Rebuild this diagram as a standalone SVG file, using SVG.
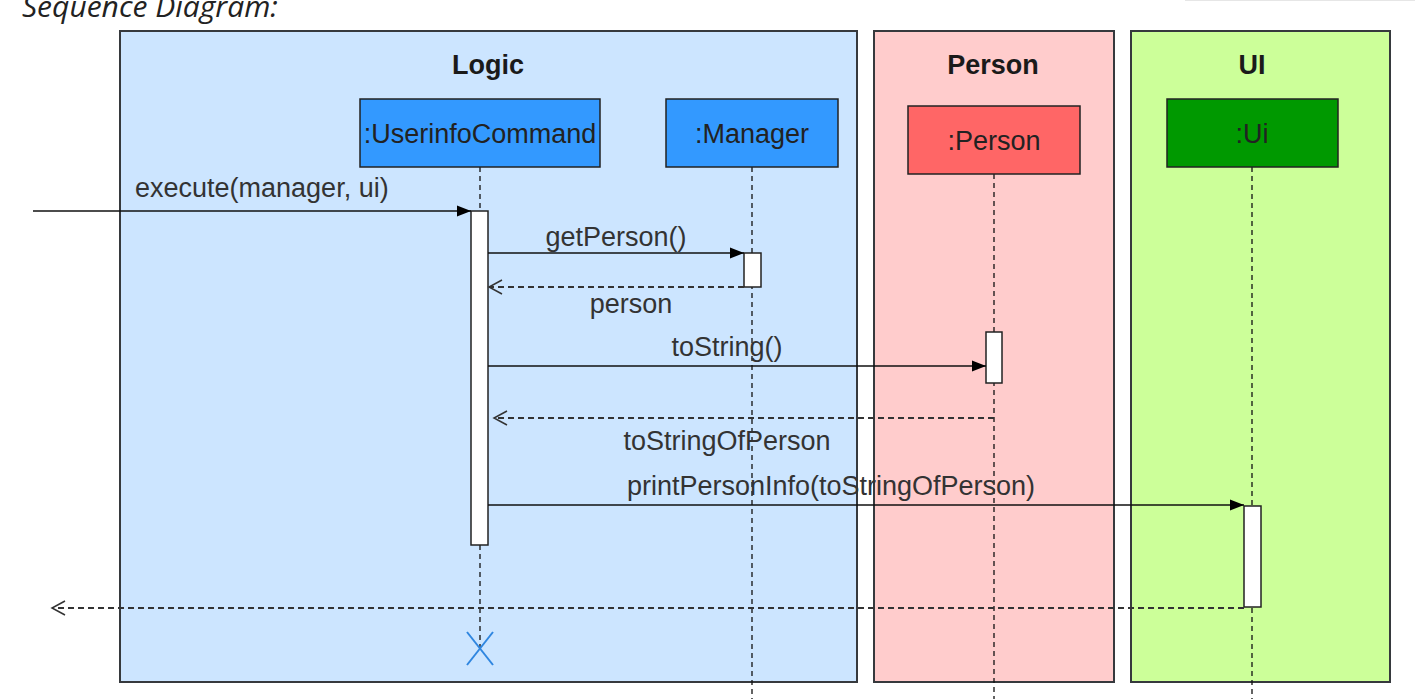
<svg xmlns="http://www.w3.org/2000/svg" width="1419" height="699" viewBox="0 0 1419 699">
<style>
.frame{stroke:#36393d;stroke-width:2}
.ftitle{font-family:"Liberation Sans",Arial,sans-serif;font-size:27px;font-weight:bold;fill:#1a1a1a;text-anchor:middle}
.lbox{stroke:#222;stroke-width:1.5}
.ltext{font-family:"Liberation Sans",Arial,sans-serif;font-size:27px;fill:#222;text-anchor:middle}
.life{stroke:#111;stroke-width:1.3;stroke-dasharray:5 4;fill:none}
.act{fill:#fff;stroke:#222;stroke-width:1.5}
.msg{stroke:#111;stroke-width:1.5;fill:none}
.ret{stroke:#333;stroke-width:1.8;stroke-dasharray:6 4;fill:none}
.mlabel{font-family:"Liberation Sans",Arial,sans-serif;font-size:27px;fill:#333}
</style>
<defs>
<marker id="block" markerUnits="userSpaceOnUse" markerWidth="15" markerHeight="12" refX="14" refY="6" orient="auto" overflow="visible">
<path d="M0,0.5 L14,6 L0,11.5 z" fill="#000"/>
</marker>
<marker id="open" markerUnits="userSpaceOnUse" markerWidth="14" markerHeight="16" refX="13" refY="7" orient="auto" overflow="visible">
<path d="M0,0 L13,7 L0,14" fill="none" stroke="#333" stroke-width="1.5"/>
</marker>
</defs>
<rect width="1419" height="699" fill="#fff"/>
<line x1="1185" y1="0.5" x2="1415" y2="0.5" stroke="#e6e6e6" stroke-width="1"/>
<text x="22" y="17" font-family="'Open Sans',sans-serif" font-style="italic" font-size="30" fill="#222">Sequence Diagram:</text>

<g id="frame-logic">
<rect class="frame" x="120" y="31" width="737" height="651" fill="#CCE5FF"/>
<text class="ftitle" x="488" y="74">Logic</text>
</g>
<g id="frame-person">
<rect class="frame" x="874" y="31" width="240" height="651" fill="#FFCCCC"/>
<text class="ftitle" x="993" y="74">Person</text>
</g>
<g id="frame-ui">
<rect class="frame" x="1131" y="31" width="259" height="651" fill="#CCFF99"/>
<text class="ftitle" x="1252" y="74">UI</text>
</g>

<g id="lifelines">
<line class="life" x1="480" y1="167" x2="480" y2="648"/>
<line class="life" x1="752" y1="167" x2="752" y2="699"/>
<line class="life" x1="994" y1="174" x2="994" y2="699"/>
<line class="life" x1="1252" y1="167" x2="1252" y2="699"/>
</g>

<g id="userinfocommand">
<rect class="lbox" x="360" y="99" width="240" height="68" fill="#3399FF"/>
<text class="ltext" x="480" y="143">:UserinfoCommand</text>
<rect class="act" x="471" y="211" width="17" height="334"/>
<g stroke="#2F86E0" stroke-width="2"><line x1="467" y1="632" x2="493" y2="665"/><line x1="493" y1="632" x2="467" y2="665"/></g>
</g>
<g id="manager">
<rect class="lbox" x="666" y="99" width="172" height="68" fill="#3399FF"/>
<text class="ltext" x="752" y="143">:Manager</text>
<rect class="act" x="744" y="253" width="17" height="34"/>
</g>
<g id="person">
<rect class="lbox" x="908" y="106" width="172" height="68" fill="#FF6666"/>
<text class="ltext" x="994" y="150">:Person</text>
<rect class="act" x="986" y="332" width="16" height="51"/>
</g>
<g id="ui">
<rect class="lbox" x="1167" y="99" width="171" height="68" fill="#009900"/>
<text class="ltext" x="1252" y="143">:Ui</text>
<rect class="act" x="1244" y="506" width="17" height="101"/>
</g>

<g id="connectors">
<line class="msg" x1="33" y1="211" x2="471" y2="211" marker-end="url(#block)"/>
<text class="mlabel" x="135" y="197">execute(manager, ui)</text>
<line class="msg" x1="488" y1="253" x2="744" y2="253" marker-end="url(#block)"/>
<text class="mlabel" x="616" y="246" text-anchor="middle">getPerson()</text>
<line class="ret" x1="744" y1="287" x2="489" y2="287" marker-end="url(#open)"/>
<text class="mlabel" x="631" y="313" text-anchor="middle">person</text>
<line class="msg" x1="488" y1="366" x2="986" y2="366" marker-end="url(#block)"/>
<text class="mlabel" x="727" y="356" text-anchor="middle">toString()</text>
<line class="ret" x1="994" y1="418" x2="494" y2="418" marker-end="url(#open)"/>
<text class="mlabel" x="727" y="450" text-anchor="middle">toStringOfPerson</text>
<line class="msg" x1="488" y1="505" x2="1244" y2="505" marker-end="url(#block)"/>
<text class="mlabel" x="831" y="495" text-anchor="middle">printPersonInfo(toStringOfPerson)</text>
<line class="ret" x1="1244" y1="608" x2="52" y2="608" marker-end="url(#open)"/>
</g>
</svg>
